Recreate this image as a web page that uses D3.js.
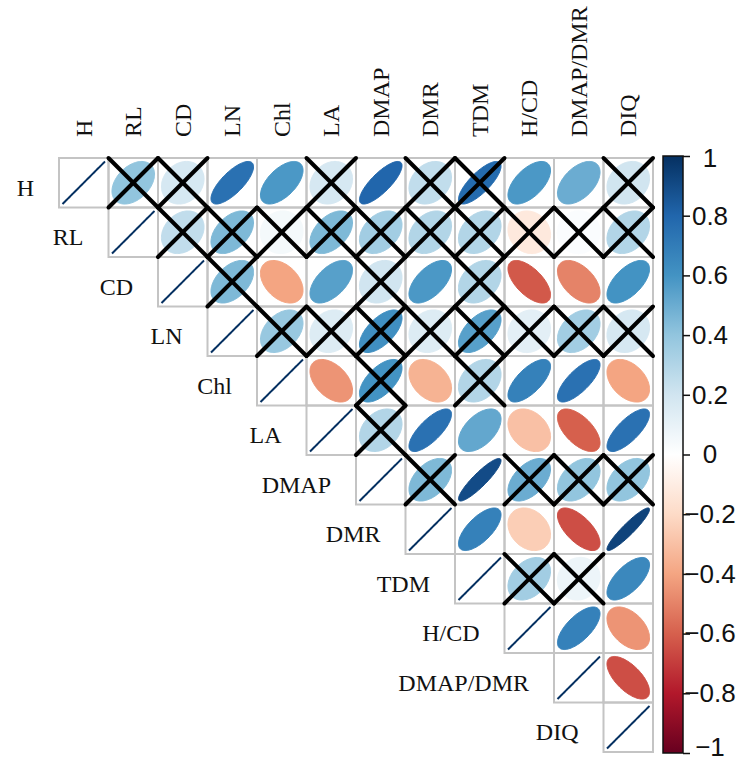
<!DOCTYPE html>
<html>
<head>
<meta charset="utf-8">
<title>corrplot</title>
<script src="https://cdn.jsdelivr.net/npm/d3@7"></script>
<style>
body { margin: 0; background: #fff; }
.lab { font-family: "Liberation Serif", "Times New Roman", serif; font-size: 24px; fill: #111; }
.bar text { font-family: "Liberation Sans", Arial, sans-serif; font-size: 26px; fill: #111; }
</style>
</head>
<body>
<svg id="chart"></svg>
<script>
var labels = ["H", "RL", "CD", "LN", "Chl", "LA", "DMAP", "DMR", "TDM", "H/CD", "DMAP/DMR", "DIQ"];

// upper triangle, row i starts at column i (diagonal = 1)
var corrRows = [
	[1, 0.40, 0.18, 0.75, 0.58, 0.18, 0.80, 0.25, 0.78, 0.58, 0.50, 0.20],
	[1, 0.25, 0.45, 0.05, 0.45, 0.35, 0.30, 0.30, -0.12, 0.02, 0.30],
	[1, 0.45, -0.40, 0.55, 0.20, 0.58, 0.30, -0.62, -0.50, 0.60],
	[1, 0.38, 0.15, 0.62, 0.15, 0.55, 0.12, 0.35, 0.18],
	[1, -0.45, 0.60, -0.35, 0.30, 0.68, 0.75, -0.40],
	[1, 0.30, 0.75, 0.52, -0.30, -0.60, 0.75],
	[1, 0.45, 0.90, 0.50, 0.40, 0.40],
	[1, 0.68, -0.25, -0.65, 0.93],
	[1, 0.35, 0.08, 0.65],
	[1, 0.68, -0.45],
	[1, -0.65],
	[1]
];

// 1 = not significant, crossed out
var crossRows = [
	[0, 1, 1, 0, 0, 1, 0, 1, 1, 0, 0, 1],
	[0, 1, 1, 1, 1, 1, 1, 1, 1, 1, 1],
	[0, 1, 0, 0, 1, 0, 1, 0, 0, 0],
	[0, 1, 1, 1, 1, 1, 1, 1, 1],
	[0, 0, 1, 0, 1, 0, 0, 0],
	[0, 1, 0, 0, 0, 0, 0],
	[0, 1, 0, 1, 1, 1],
	[0, 0, 0, 0, 0],
	[0, 1, 1, 0],
	[0, 0, 0],
	[0, 0],
	[0]
];

var barTicks = [1, 0.8, 0.6, 0.4, 0.2, 0, -0.2, -0.4, -0.6, -0.8, -1];
var paletteStops = [-1, -0.8, -0.6, -0.4, -0.2, 0, 0.2, 0.4, 0.6, 0.8, 1];
var paletteColors = ["#67001F", "#B2182B", "#D6604D", "#F4A582", "#FDDBC7", "#FFFFFF",
	"#D1E5F0", "#92C5DE", "#4393C3", "#2166AC", "#053061"];

var W = 746, H = 761;
var svg = d3.select("#chart").attr("width", W).attr("height", H);

var x = d3.scaleBand().domain(d3.range(12)).range([59, 653]);
var y = d3.scaleBand().domain(d3.range(12)).range([158, 752]);
var color = d3.scaleLinear().domain(paletteStops).range(paletteColors);
var cw = x.bandwidth(), ch = y.bandwidth();

// flatten into cells
var cells = [];
corrRows.forEach(function(row, i) {
	row.forEach(function(r, k) {
		cells.push({ i: i, j: i + k, r: r, cross: crossRows[i][k] });
	});
});

// corrplot-style ellipse
function ellipse(d) {
	var a = Math.acos(Math.max(-1, Math.min(1, d.r)));
	var cx = x(d.j) + cw / 2, cy = y(d.i) + ch / 2;
	var pts = d3.range(100).map(function(n) {
		var k = n / 99 * 2 * Math.PI;
		return [cx + 0.86 * Math.cos(k + a / 2) / 2 * cw,
			cy - 0.86 * Math.cos(k - a / 2) / 2 * ch];
	});
	return d3.line()(pts) + "Z";
}

var g = svg.append("g");

g.selectAll(".ell").data(cells).enter().append("path")
	.attr("class", "ell")
	.attr("d", ellipse)
	.attr("fill", function(d) { return color(d.r); })
	.attr("stroke", function(d) { return color(d.r); })
	.attr("stroke-width", function(d) { return d.i == d.j ? 2 : 1; });

g.selectAll(".cell").data(cells).enter().append("rect")
	.attr("class", "cell")
	.attr("x", function(d) { return x(d.j); })
	.attr("y", function(d) { return y(d.i); })
	.attr("width", cw).attr("height", ch)
	.attr("fill", "none")
	.attr("stroke", "#c4c4c4")
	.attr("stroke-width", 2);

// crosses
var crossed = cells.filter(function(d) { return d.cross; });
var cg = g.selectAll(".cross").data(crossed).enter().append("g").attr("class", "cross");
cg.append("line")
	.attr("x1", function(d) { return x(d.j); }).attr("y1", function(d) { return y(d.i); })
	.attr("x2", function(d) { return x(d.j) + cw; }).attr("y2", function(d) { return y(d.i) + ch; });
cg.append("line")
	.attr("x1", function(d) { return x(d.j); }).attr("y1", function(d) { return y(d.i) + ch; })
	.attr("x2", function(d) { return x(d.j) + cw; }).attr("y2", function(d) { return y(d.i); });
cg.selectAll("line").attr("stroke", "#000").attr("stroke-width", 4).attr("stroke-linecap", "round");

// column labels
svg.selectAll(".clab").data(labels).enter().append("text")
	.attr("class", "lab clab")
	.attr("transform", function(d, i) { return "translate(" + (x(i) + cw / 2 + 8) + ",137) rotate(-90)"; })
	.text(function(d) { return d; });

// row labels
svg.selectAll(".rlab").data(labels).enter().append("text")
	.attr("class", "lab rlab")
	.attr("text-anchor", "end")
	.attr("x", function(d, i) { return x(i) - 25; })
	.attr("y", function(d, i) { return y(i) + ch / 2 + 13; })
	.text(function(d) { return d; });

// colour bar
var by = d3.scaleLinear().domain([-1, 1]).range([753, 156]);
var defs = svg.append("defs");
var grad = defs.append("linearGradient").attr("id", "cbar")
	.attr("x1", 0).attr("y1", 1).attr("x2", 0).attr("y2", 0);
grad.selectAll("stop").data(paletteStops).enter().append("stop")
	.attr("offset", function(d) { return (d + 1) / 2; })
	.attr("stop-color", function(d) { return color(d); });

var bar = svg.append("g").attr("class", "bar");
bar.append("rect")
	.attr("x", 663).attr("y", by(1))
	.attr("width", 20).attr("height", by(-1) - by(1))
	.attr("fill", "url(#cbar)")
	.attr("stroke", "#111").attr("stroke-width", 1.5);

var axis = bar.append("g")
	.attr("transform", "translate(683,0)")
	.call(d3.axisRight(by).tickValues(barTicks).tickSize(7).tickFormat(d3.format("~g")));
axis.select(".domain").remove();
axis.selectAll("line").attr("stroke", "#111").attr("stroke-width", 1.5);
axis.selectAll("text")
	.attr("text-anchor", "middle")
	.attr("x", 27)
	.attr("dy", function(d) { return d == -1 ? "0.1em" : d == 1 ? "0.4em" : "0.32em"; })
	.attr("font-size", null).attr("font-family", null);
</script>
</body>
</html>
